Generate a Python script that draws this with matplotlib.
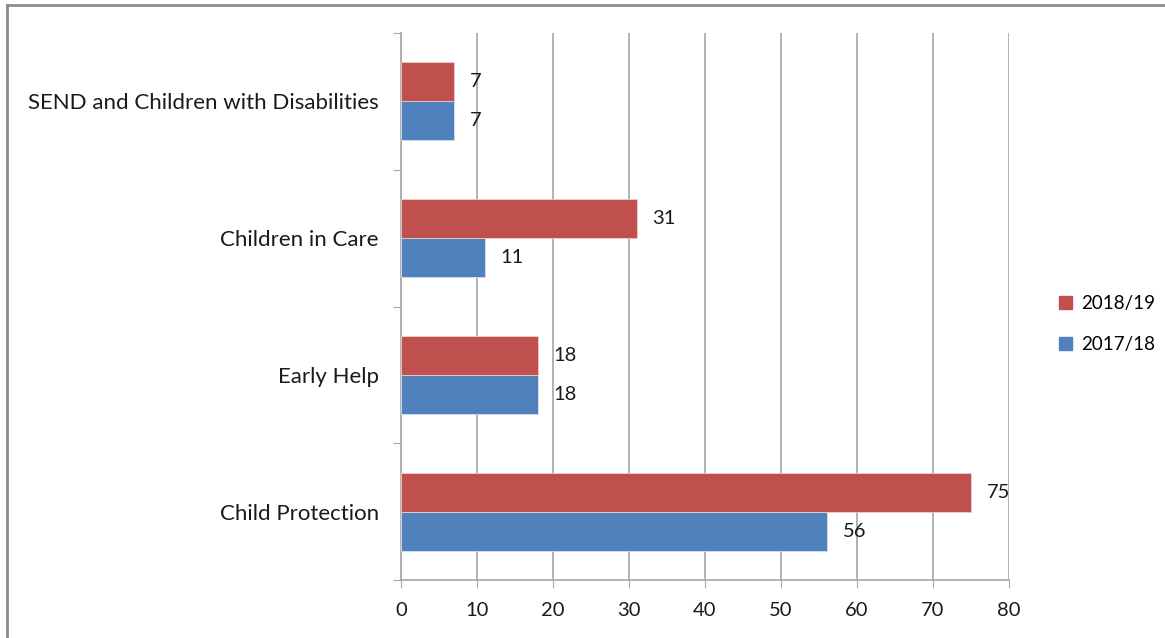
import matplotlib.pyplot as plt
import numpy as np
from matplotlib.lines import Line2D
from matplotlib.patches import Patch

# referral counts by service area, two years
categories = ['Child Protection', 'Early Help', 'Children in Care',
              'SEND and Children with Disabilities']
y2017 = [56, 18, 11, 7]
y2018 = [75, 18, 31, 7]
xticks = [0, 10, 20, 30, 40, 50, 60, 70, 80]

red = '#C0504D'
blue = '#4F81BD'
grid = '#A6A6A6'

plt.rcParams['font.family'] = ['Lato', 'DejaVu Sans']

fig = plt.figure(figsize=(11.65, 6.38), dpi=100)
ax = fig.add_axes([401/1165, 1 - 580/638, 608/1165, 547/638])

pos = np.arange(len(categories))
h = 0.285
b1 = ax.barh(pos - h/2, y2017, height=h, color=blue, edgecolor='#D6E0EE',
             linewidth=0.6, zorder=3, label='2017/18')
b2 = ax.barh(pos + h/2, y2018, height=h, color=red, edgecolor='#EBCFCE',
             linewidth=0.6, zorder=3, label='2018/19')

for bars in (b1, b2):
    for r in bars:
        w = r.get_width()
        ax.annotate(str(int(w)), (w, r.get_y() + r.get_height()/2),
                    xytext=(16, 0), textcoords='offset pixels',
                    ha='left', va='center', fontsize=14.5, color='#1A1A1A',
                    zorder=4)

ax.set_xlim(0, 80)
ax.set_ylim(-0.5, len(categories) - 0.5)
ax.set_xticks(xticks)
ax.tick_params(axis='x', length=6, color=grid, labelsize=14.5, pad=10,
               labelcolor='#1A1A1A')
ax.xaxis.grid(True, color=grid, linewidth=1.2, zorder=0)

# boundary ticks on the category axis, labels at the centres
ax.set_yticks(np.arange(-0.5, len(categories)), minor=False)
ax.set_yticklabels([])
ax.set_yticks(pos, minor=True)
ax.set_yticklabels(categories, minor=True)
ax.tick_params(axis='y', which='major', length=6, color=grid)
ax.tick_params(axis='y', which='minor', length=0, labelsize=16, pad=16,
               labelcolor='#1A1A1A')

for s in ('top', 'right'):
    ax.spines[s].set_visible(False)
for s in ('left', 'bottom'):
    ax.spines[s].set_color(grid)
    ax.spines[s].set_linewidth(1.2)

handles = [Patch(color=red), Patch(color=blue)]
fig.legend(handles, ['2018/19', '2017/18'], loc='center left',
           bbox_to_anchor=(1042/1165, 314/638), frameon=False, fontsize=13.5,
           handlelength=0.7, handleheight=0.7, handletextpad=0.5,
           labelspacing=1.3)

# outer chart border
fig.add_artist(Line2D([7/1165, 7/1165], [0, 1 - 5/638], color='#8C8C8C',
                      linewidth=2, transform=fig.transFigure))
fig.add_artist(Line2D([7/1165, 1], [1 - 5/638, 1 - 5/638], color='#8C8C8C',
                      linewidth=2, transform=fig.transFigure))

fig.savefig('out.png', dpi=100)
